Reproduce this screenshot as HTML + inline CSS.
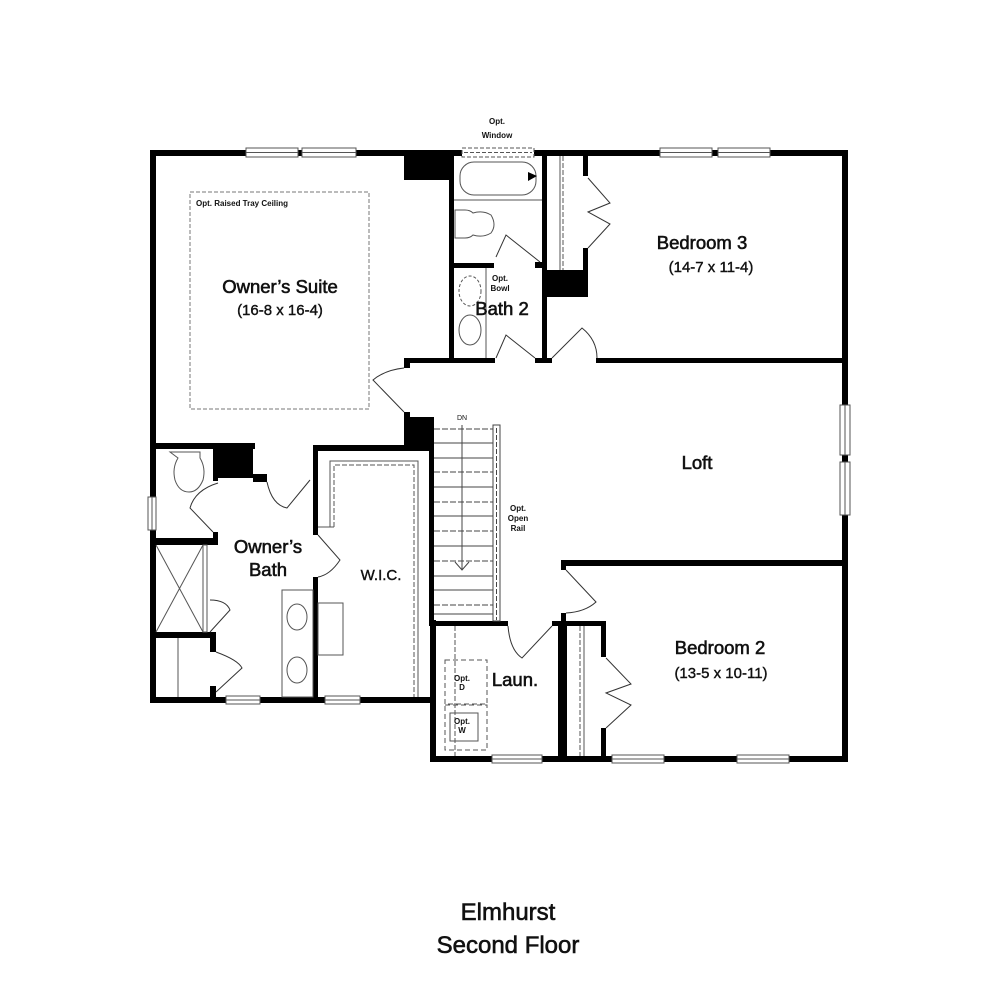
<!DOCTYPE html>
<html><head><meta charset="utf-8"><style>
html,body{margin:0;padding:0;background:#fff}
svg{display:block}
text{font-family:"Liberation Sans",sans-serif;fill:#111}
.t{font-size:18.5px;stroke:#111;stroke-width:0.6;text-anchor:middle}
.s{font-size:15px;text-anchor:middle;stroke:#111;stroke-width:0.4}
.m{font-size:8px;text-anchor:middle;font-weight:bold}
</style></head><body>
<svg width="1000" height="1000" viewBox="0 0 1000 1000" xmlns="http://www.w3.org/2000/svg">
<g fill="#000">
<rect x="150" y="150" width="698" height="6"/>
<rect x="150" y="150" width="6" height="553"/>
<rect x="842" y="150" width="6" height="612"/>
<rect x="150" y="697" width="284" height="6"/>
<rect x="430" y="620" width="6" height="142"/>
<rect x="430" y="756" width="418" height="6"/>
<rect x="150" y="443" width="105" height="6"/>
<rect x="215" y="443" width="38" height="35"/>
<rect x="253" y="474" width="14" height="8"/>
<rect x="313" y="445" width="121" height="6"/>
<rect x="313" y="445" width="5" height="90"/>
<rect x="313" y="577" width="5" height="123"/>
<rect x="429" y="445" width="5" height="180"/>
<rect x="213" y="449" width="5" height="32"/>
<rect x="213" y="532" width="5" height="13"/>
<rect x="150" y="538" width="68" height="7"/>
<rect x="150" y="632" width="66" height="6"/>
<rect x="210" y="632" width="6" height="20"/>
<rect x="210" y="686" width="6" height="14"/>
<rect x="404" y="150" width="45" height="30"/>
<rect x="404" y="358" width="6" height="10"/>
<rect x="404" y="412" width="6" height="8"/>
<rect x="404" y="417" width="30" height="31"/>
<rect x="449" y="150" width="5" height="213"/>
<rect x="404" y="358" width="91" height="5"/>
<rect x="454" y="263" width="40" height="5"/>
<rect x="542" y="150" width="5" height="213"/>
<rect x="535" y="358" width="17" height="5"/>
<rect x="535" y="262" width="10" height="6"/>
<rect x="583" y="156" width="5" height="20"/>
<rect x="583" y="248" width="5" height="48"/>
<rect x="542" y="270" width="46" height="27"/>
<rect x="596" y="358" width="252" height="5"/>
<rect x="561" y="560" width="287" height="6"/>
<rect x="561" y="560" width="5" height="10"/>
<rect x="561" y="613" width="5" height="8"/>
<rect x="429" y="621" width="79" height="5"/>
<rect x="552" y="621" width="53" height="5"/>
<rect x="558" y="621" width="5" height="141"/>
<rect x="563" y="621" width="4" height="141"/>
<rect x="601" y="621" width="5" height="36"/>
<rect x="601" y="728" width="5" height="34"/>
</g>
<g fill="none" stroke="#555" stroke-width="1">
<rect x="246" y="148" width="52" height="9" fill="#fff"/><line x1="246" y1="152.5" x2="298" y2="152.5"/>
<rect x="302" y="148" width="54" height="9" fill="#fff"/><line x1="302" y1="152.5" x2="356" y2="152.5"/>
<rect x="660" y="148" width="52" height="9" fill="#fff"/><line x1="660" y1="152.5" x2="712" y2="152.5"/>
<rect x="718" y="148" width="52" height="9" fill="#fff"/><line x1="718" y1="152.5" x2="770" y2="152.5"/>
<rect x="840" y="405" width="10" height="50" fill="#fff"/><line x1="845" y1="405" x2="845" y2="455"/>
<rect x="840" y="462" width="10" height="53" fill="#fff"/><line x1="845" y1="462" x2="845" y2="515"/>
<rect x="612" y="755" width="52" height="8" fill="#fff"/><line x1="612" y1="759" x2="664" y2="759"/>
<rect x="737" y="755" width="52" height="8" fill="#fff"/><line x1="737" y1="759" x2="789" y2="759"/>
<rect x="492" y="755" width="50" height="8" fill="#fff"/><line x1="492" y1="759" x2="542" y2="759"/>
<rect x="226" y="696" width="34" height="8" fill="#fff"/><line x1="226" y1="700" x2="260" y2="700"/>
<rect x="325" y="696" width="35" height="8" fill="#fff"/><line x1="325" y1="700" x2="360" y2="700"/>
<rect x="148" y="497" width="8" height="33" fill="#fff"/><line x1="152" y1="497" x2="152" y2="530"/>
<rect x="462" y="148" width="72" height="9" fill="#fff" stroke-dasharray="4,2"/>
<line x1="464" y1="152.5" x2="532" y2="152.5" stroke-dasharray="4,2"/>
<rect x="190" y="192" width="179" height="217" stroke="#777" stroke-dasharray="4,2"/>
<rect x="460" y="162" width="76" height="33" rx="14"/>
<line x1="454" y1="200" x2="542" y2="200"/>
<path d="M455 210 h10 q5 0 8 3 q10 -3 18 2 q6 10 0 18 q-8 5 -18 2 q-3 3 -8 3 h-10z"/>
<line x1="486" y1="268" x2="486" y2="358"/>
<ellipse cx="470" cy="291" rx="11" ry="15" stroke-dasharray="3,2"/>
<ellipse cx="470" cy="330" rx="11" ry="15"/>
<path d="M496 257 L506 235 L540 262" stroke="#333"/>
<path d="M496 358 L506 335 L535 358" stroke="#333"/>
<path d="M552 358 L582 328 Q597 340 597 358" stroke="#333"/>
<line x1="563" y1="156" x2="563" y2="270" stroke-dasharray="5,2"/>
<line x1="560" y1="156" x2="560" y2="270"/>
<path d="M588 178 L610 203 L588 212 L610 224 L588 248" stroke="#333"/>
<path d="M404 368 Q385 370 373 380 L404 412" stroke="#333"/>
<g stroke="#444">
<line x1="434" y1="429" x2="493" y2="429" stroke-dasharray="6,2"/>
<line x1="434" y1="443" x2="493" y2="443"/><line x1="434" y1="458" x2="493" y2="458"/>
<line x1="434" y1="472" x2="493" y2="472" stroke-dasharray="6,2"/><line x1="434" y1="487" x2="493" y2="487"/>
<line x1="434" y1="502" x2="493" y2="502" stroke-dasharray="6,2"/><line x1="434" y1="516" x2="493" y2="516"/>
<line x1="434" y1="531" x2="493" y2="531" stroke-dasharray="6,2"/><line x1="434" y1="546" x2="493" y2="546"/>
<line x1="434" y1="561" x2="493" y2="561" stroke-dasharray="6,2"/><line x1="434" y1="576" x2="493" y2="576"/>
<line x1="434" y1="590" x2="493" y2="590"/><line x1="434" y1="605" x2="493" y2="605" stroke-dasharray="6,2"/>
<line x1="434" y1="614" x2="493" y2="614"/>
<line x1="462" y1="425" x2="462" y2="570"/>
<path d="M455 562 L462 570 L469 562"/>
<rect x="493" y="425" width="7" height="196" fill="#fff"/>
<line x1="496.5" y1="428" x2="496.5" y2="620" stroke-dasharray="5,2"/>
</g>
<path d="M170 452 h30 v6 q6 10 3 22 q-5 12 -14 12 q-10 0 -14 -12 q-3 -12 3 -22z"/>
<line x1="156" y1="545" x2="203" y2="632"/><line x1="203" y1="545" x2="156" y2="632"/>
<rect x="203" y="545" width="4" height="87"/>
<line x1="178" y1="638" x2="178" y2="697"/>
<path d="M218 483 Q195 490 190 508 L213 532" stroke="#333"/>
<path d="M267 482 Q272 505 287 508 L310 480" stroke="#333"/>
<path d="M318 535 L340 560 Q330 575 318 577" stroke="#333"/>
<path d="M210 600 Q226 600 230 610 L210 632" stroke="#333"/>
<path d="M216 652 Q238 660 242 668 L216 692" stroke="#333"/>
<rect x="282" y="590" width="31" height="107"/>
<ellipse cx="297" cy="617" rx="10" ry="13"/><ellipse cx="297" cy="670" rx="10" ry="13"/>
<rect x="318" y="603" width="25" height="52"/>
<path d="M334 527 V465 H414 V697" stroke-dasharray="5,2"/>
<path d="M330 527 V461 H418 V697"/>
<line x1="318" y1="527" x2="334" y2="527"/>
<path d="M508 626 Q510 650 522 658 L552 626" stroke="#333"/>
<line x1="455" y1="626" x2="455" y2="756" stroke-dasharray="5,2"/>
<rect x="445" y="660" width="42" height="44" stroke-dasharray="5,3"/>
<rect x="445" y="705" width="42" height="45" stroke-dasharray="5,3"/>
<rect x="450" y="713" width="28" height="28"/>
<path d="M566 570 L596 602 Q585 612 566 613" stroke="#333"/>
<line x1="580" y1="626" x2="580" y2="756" stroke-dasharray="5,2"/>
<line x1="584" y1="626" x2="584" y2="756"/>
<path d="M606 658 L631 684 L606 693 L631 705 L606 728" stroke="#333"/>
</g>
<path d="M528 172 L537 176 L528 181z" fill="#000"/>
<text class="t" x="280" y="293">Owner’s Suite</text>
<text class="s" x="280" y="315">(16-8 x 16-4)</text>
<text x="196" y="206" style="font-size:8px;font-weight:bold">Opt. Raised Tray Ceiling</text>
<text class="m" x="497" y="124">Opt.</text>
<text class="m" x="497" y="138">Window</text>
<text class="m" x="500" y="281">Opt.</text>
<text class="m" x="500" y="291">Bowl</text>
<text class="t" x="502" y="315">Bath 2</text>
<text class="t" x="702" y="249">Bedroom 3</text>
<text class="s" x="711" y="272">(14-7 x 11-4)</text>
<text class="t" x="697" y="469">Loft</text>
<text class="m" x="462" y="420" style="font-weight:normal;font-size:7px">DN</text>
<text class="m" x="518" y="511">Opt.</text>
<text class="m" x="518" y="521">Open</text>
<text class="m" x="518" y="531">Rail</text>
<text class="t" x="268" y="553">Owner’s</text>
<text class="t" x="268" y="576">Bath</text>
<text class="s" x="381" y="580">W.I.C.</text>
<text class="t" x="515" y="686">Laun.</text>
<text class="m" x="462" y="681">Opt.</text>
<text class="m" x="462" y="690">D</text>
<text class="m" x="462" y="724">Opt.</text>
<text class="m" x="462" y="733">W</text>
<text class="t" x="720" y="654">Bedroom 2</text>
<text class="s" x="721" y="678">(13-5 x 10-11)</text>
<text x="508" y="920" style="font-size:24px;text-anchor:middle;stroke:#111;stroke-width:0.6">Elmhurst</text>
<text x="508" y="953" style="font-size:24px;text-anchor:middle;stroke:#111;stroke-width:0.6">Second Floor</text>
</svg>
</body></html>
